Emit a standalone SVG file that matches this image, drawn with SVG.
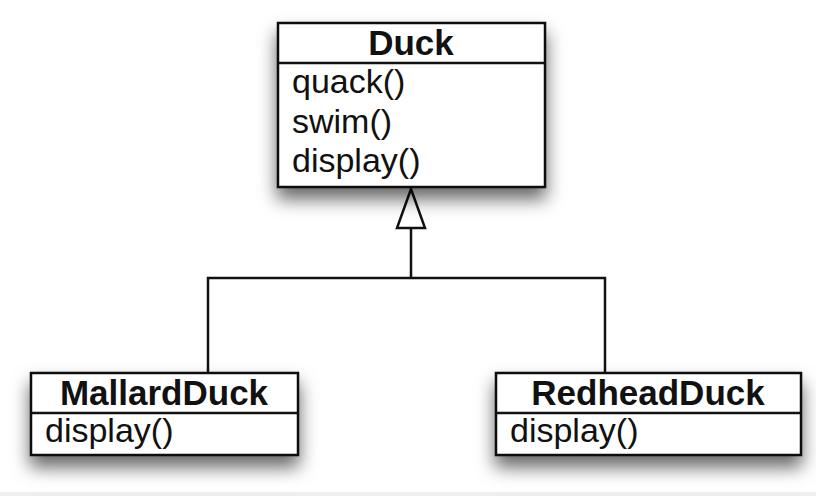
<svg xmlns="http://www.w3.org/2000/svg" width="816" height="496" viewBox="0 0 816 496">
<defs>
<filter id="sh" x="-20%" y="-30%" width="140%" height="180%">
<feDropShadow dx="0" dy="11" stdDeviation="9" flood-color="#000" flood-opacity="0.6"/>
</filter>
</defs>
<style>
.box{fill:#fff;stroke:#111;stroke-width:2.5}
.div{stroke:#111;stroke-width:2.5}
.t{font-family:"Liberation Sans",Arial,sans-serif;font-size:34px;fill:#111}
.b{font-weight:bold;font-size:35px;text-anchor:middle}
.ln{fill:none;stroke:#111;stroke-width:2.5}
</style>
<rect x="0" y="492" width="816" height="4" fill="#eeeeee"/>
<g id="connectors">
<polyline class="ln" points="208,373 208,278 605,278 605,373"/>
<line class="ln" x1="411" y1="278" x2="411" y2="228"/>
<polygon class="ln" fill="#fff" points="411,189 397,228 425,228"/>
</g>
<g id="Duck">
<rect class="box" filter="url(#sh)" x="278" y="23" width="267" height="164"/>
<line class="div" x1="278" y1="63" x2="545" y2="63"/>
<text class="t b" x="411" y="55">Duck</text>
<text class="t" x="292" y="93">quack()</text>
<text class="t" x="292" y="133">swim()</text>
<text class="t" x="292" y="172">display()</text>
</g>
<g id="MallardDuck">
<rect class="box" filter="url(#sh)" x="31" y="373" width="267" height="82"/>
<line class="div" x1="31" y1="413" x2="298" y2="413"/>
<text class="t b" x="164" y="405">MallardDuck</text>
<text class="t" x="45" y="442">display()</text>
</g>
<g id="RedheadDuck">
<rect class="box" filter="url(#sh)" x="496" y="373" width="305" height="82"/>
<line class="div" x1="496" y1="413" x2="801" y2="413"/>
<text class="t b" x="648" y="405">RedheadDuck</text>
<text class="t" x="510" y="442">display()</text>
</g>
</svg>
